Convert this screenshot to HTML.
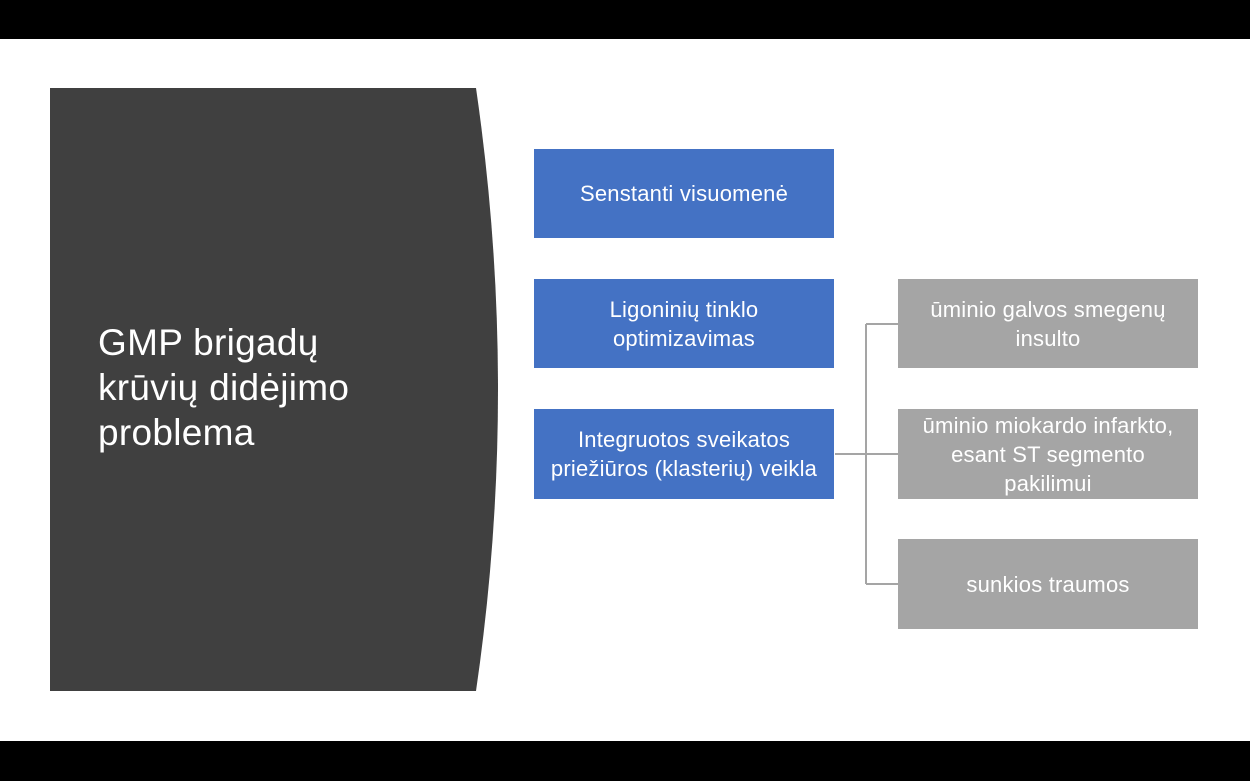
<!DOCTYPE html>
<html><head><meta charset="utf-8"><style>
body{margin:0;width:1250px;height:781px;background:#fff;position:relative;overflow:hidden;font-family:"Liberation Sans",sans-serif}
.bar{position:absolute;left:0;width:1250px;background:#000}
.b{position:absolute;width:300px;display:flex;align-items:center;justify-content:center;text-align:center;color:#fff;font-size:22px;line-height:29px;letter-spacing:0.2px}
.blue{background:#4472C4;left:534px}
.gray{background:#A5A5A5;left:898px}
.t{position:absolute;left:98px;top:320px;color:#fff;font-size:37px;line-height:45px;letter-spacing:0.3px}
</style></head><body>
<div class="bar" style="top:0;height:39px"></div>
<div class="bar" style="top:741px;height:40px"></div>
<svg width="1250" height="781" style="position:absolute;left:0;top:0">
<path d="M50 88 L476 88 Q520 390 476 691 L50 691 Z" fill="#404040"/>
<g stroke="#A5A5A5" stroke-width="2" fill="none">
<path d="M835 454 H898 M866 324 V584 M866 324 H898 M866 584 H898"/>
</g>
</svg>
<div class="t">GMP brigadų<br>krūvių didėjimo<br>problema</div>
<div class="b blue" style="top:149px;height:89px">Senstanti visuomenė</div>
<div class="b blue" style="top:279px;height:89px">Ligoninių tinklo<br>optimizavimas</div>
<div class="b blue" style="top:409px;height:90px">Integruotos sveikatos<br>priežiūros (klasterių) veikla</div>
<div class="b gray" style="top:279px;height:89px">ūminio galvos smegenų<br>insulto</div>
<div class="b gray" style="top:409px;height:90px">ūminio miokardo infarkto,<br>esant ST segmento<br>pakilimui</div>
<div class="b gray" style="top:539px;height:90px">sunkios traumos</div>
</body></html>
